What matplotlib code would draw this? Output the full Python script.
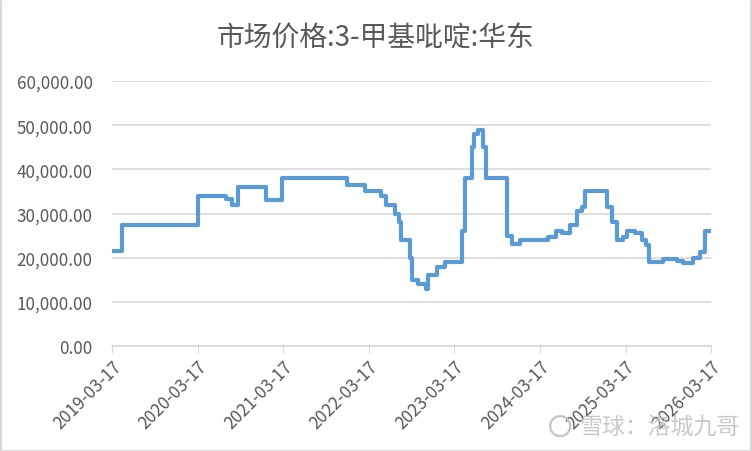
import matplotlib
matplotlib.use("Agg")
import matplotlib.pyplot as plt
import matplotlib.ticker as mticker
from matplotlib.patches import Ellipse
import pandas as pd

plt.rcParams['font.family'] = ['Noto Sans CJK SC', 'DejaVu Sans']

title = "市场价格:3-甲基吡啶:华东"

# change points of the step series (date, price)
dates = ["2019-03-17", "2019-04-27", "2020-03-18", "2020-07-16", "2020-08-09",
         "2020-09-05", "2021-01-01", "2021-03-10", "2021-12-13", "2022-03-01",
         "2022-05-07", "2022-05-28", "2022-07-07", "2022-07-24", "2022-08-02",
         "2022-09-09", "2022-09-16", "2022-10-13", "2022-11-16", "2022-11-23",
         "2023-01-01", "2023-02-06", "2023-04-18", "2023-05-02", "2023-05-31",
         "2023-06-11", "2023-06-28", "2023-07-17", "2023-07-31", "2023-10-30",
         "2023-11-17", "2023-12-23", "2024-04-22", "2024-05-23", "2024-06-18",
         "2024-07-23", "2024-08-23", "2024-09-11", "2024-09-25", "2024-12-29",
         "2025-01-17", "2025-02-08", "2025-03-08", "2025-03-22", "2025-04-27",
         "2025-05-25", "2025-06-13", "2025-06-27", "2025-08-26", "2025-10-22",
         "2025-11-19", "2026-01-01", "2026-01-29", "2026-02-20", "2026-03-17"]
prices = [21500, 27500, 34000, 33300, 32000,
          36000, 33000, 38000, 36500, 35000,
          34000, 32000, 30000, 28000, 24000,
          20000, 15000, 14000, 13000, 16000,
          18000, 19000, 26000, 38000, 45000,
          48000, 49000, 45000, 38000, 25000,
          23000, 24000, 24800, 26000, 25600,
          27500, 30500, 31500, 35000, 31500,
          28000, 24000, 24800, 26000, 25600,
          24000, 22800, 19000, 19700, 19300,
          18800, 20000, 21200, 26000, 26000]

tick_dates = ["2019-03-17", "2020-03-17", "2021-03-17", "2022-03-17",
              "2023-03-17", "2024-03-17", "2025-03-17", "2026-03-17"]

x = pd.to_datetime(dates)
ticks = pd.to_datetime(tick_dates)

fig = plt.figure(figsize=(7.52, 4.52), dpi=100)
ax = fig.add_axes([0.149, 0.232, 0.7965, 0.5866])

ax.plot(x, prices, drawstyle="steps-post", color="#5b9bd5", linewidth=3.0,
        solid_joinstyle="round", solid_capstyle="round")

ax.set_ylim(0, 60000)
ax.set_xlim(ticks[0], ticks[-1])
ax.yaxis.set_major_locator(mticker.MultipleLocator(10000))
ax.yaxis.set_major_formatter(mticker.FuncFormatter(lambda v, p: f"{v:,.2f}"))
ax.set_xticks(ticks)
ax.set_xticklabels(tick_dates, rotation=45, ha="right", rotation_mode="anchor")

ax.grid(axis="y", color="#d9d9d9", linewidth=1.2)
ax.set_axisbelow(True)
for s in ["left", "right", "top"]:
    ax.spines[s].set_visible(False)
ax.spines["bottom"].set_color("#d9d9d9")
ax.spines["bottom"].set_linewidth(1.2)
ax.tick_params(axis="y", length=0, pad=14, labelsize=12.3, labelcolor="#595959")
ax.tick_params(axis="x", length=5, color="#d9d9d9", labelsize=12.3,
               labelcolor="#595959", pad=3)

fig.text(0.5, 0.915, title, ha="center", va="center", fontsize=20, color="#595959")

# watermark
fig.text(0.983, 0.055, "雪球：洛城九哥", ha="right", va="center", fontsize=16.5,
         color="#c4c4c4", alpha=0.9)
fig.patches.append(Ellipse((0.745, 0.055), 20 / 752, 20 / 452, transform=fig.transFigure,
                           fill=False, edgecolor="#c4c4c4", linewidth=1.6))

border = plt.Rectangle((0.001, 0.001), 0.998, 0.998, transform=fig.transFigure,
                       fill=False, edgecolor="#d9d9d9", linewidth=1.5)
fig.patches.append(border)

fig.savefig("out.png", dpi=100)
